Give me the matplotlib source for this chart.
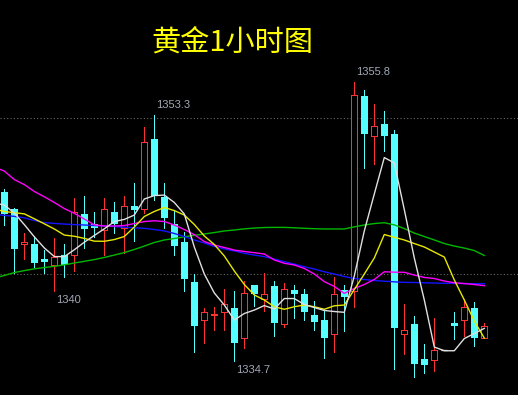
import matplotlib
matplotlib.use("Agg")
import matplotlib.pyplot as plt
import numpy as np

plt.rcParams['font.family'] = ['Noto Sans CJK SC', 'DejaVu Sans']

title = "黄金1小时图"

# OHLC of the 1-hour candles
opens = [1347.5, 1346.2, 1343.6, 1343.6, 1342.4, 1342.0, 1342.7, 1342.7, 1345.8, 1345.1,
         1344.6, 1346.0, 1344.8, 1346.4, 1346.2, 1351.5, 1347.1, 1345.1, 1343.7, 1340.7,
         1337.8, 1338.2, 1338.4, 1338.7, 1336.5, 1340.5, 1339.4, 1340.4, 1337.5, 1340.1,
         1339.8, 1338.2, 1337.8, 1336.8, 1340.1, 1340.0, 1354.7, 1351.7, 1352.6, 1351.9,
         1336.8, 1337.5, 1334.9, 1334.8, 1335.55, 1337.6, 1337.8, 1338.7, 1336.5]
highs = [1347.7, 1346.3, 1344.4, 1344.2, 1343.1, 1344.0, 1343.6, 1347.0, 1347.2, 1346.0,
         1347.0, 1346.7, 1347.2, 1348.2, 1352.4, 1353.3, 1348.2, 1346.1, 1344.5, 1341.3,
         1338.7, 1338.8, 1340.2, 1340.0, 1340.8, 1340.5, 1341.4, 1340.8, 1340.6, 1340.5,
         1340.2, 1339.3, 1338.6, 1341.1, 1340.5, 1355.8, 1355.2, 1354.1, 1353.6, 1352.2,
         1339.0, 1338.1, 1336.0, 1338.0, 1335.55, 1338.4, 1339.4, 1339.2, 1337.6]
lows = [1345.0, 1341.4, 1342.4, 1341.8, 1341.4, 1340.0, 1341.1, 1341.5, 1343.3, 1344.1,
        1342.7, 1344.4, 1342.9, 1343.8, 1345.9, 1346.9, 1344.8, 1342.7, 1340.0, 1335.4,
        1336.1, 1337.1, 1337.1, 1334.7, 1335.7, 1338.9, 1338.5, 1336.6, 1337.3, 1338.0,
        1337.8, 1337.1, 1335.0, 1335.4, 1337.0, 1338.8, 1349.3, 1349.6, 1350.6, 1334.1,
        1335.3, 1333.5, 1333.8, 1334.0, 1335.55, 1336.4, 1336.6, 1335.9, 1336.5]
closes = [1345.8, 1343.2, 1343.7, 1342.1, 1342.2, 1342.6, 1342.0, 1346.0, 1344.7, 1344.8,
          1346.2, 1345.1, 1346.4, 1346.1, 1351.3, 1347.2, 1345.5, 1343.4, 1340.9, 1337.4,
          1338.4, 1338.3, 1339.0, 1336.1, 1339.9, 1339.8, 1339.8, 1337.6, 1340.2, 1339.8,
          1338.4, 1337.7, 1336.5, 1339.8, 1339.6, 1354.8, 1351.9, 1352.5, 1351.7, 1337.2,
          1337.1, 1334.5, 1334.4, 1335.6, 1335.55, 1337.4, 1338.8, 1336.5, 1337.4]

# moving-average lines, one value per candle starting one bar before the first visible candle
ma_white = [1346.66, 1346.51, 1345.90, 1345.03, 1344.11, 1343.27, 1342.62, 1342.61, 1343.13, 1343.70,
            1344.21, 1344.71, 1345.26, 1345.42, 1345.75, 1346.96, 1347.22, 1347.26, 1346.70, 1345.83,
            1343.34, 1341.30, 1339.87, 1338.96, 1337.83, 1338.32, 1338.58, 1338.92, 1338.66, 1339.45,
            1339.45, 1339.00, 1338.77, 1338.55, 1338.47, 1338.41, 1341.15, 1344.55, 1347.34, 1350.09,
            1349.68, 1346.16, 1342.51, 1339.34, 1335.79, 1335.51, 1335.51, 1336.43, 1336.81, 1337.20]
ma_yellow = [1346.21, 1346.02, 1345.93, 1345.84, 1345.47, 1345.09, 1344.70, 1344.24, 1344.15, 1343.99,
             1343.78, 1343.77, 1343.90, 1344.13, 1344.85, 1345.64, 1346.02, 1346.32, 1346.09, 1345.75,
             1345.04, 1344.17, 1343.53, 1342.66, 1341.53, 1340.51, 1339.72, 1339.34, 1338.83, 1338.64,
             1338.83, 1338.96, 1338.83, 1338.64, 1338.90, 1338.96, 1340.13, 1341.30, 1342.51, 1344.28,
             1344.07, 1343.87, 1343.60, 1343.34, 1342.96, 1342.58, 1340.85, 1339.34, 1337.75, 1336.47]
ma_magenta = [1349.38, 1349.07, 1348.43, 1348.05, 1347.53, 1347.13, 1346.70, 1346.24, 1345.88, 1345.45,
              1345.01, 1344.92, 1344.92, 1344.96, 1345.11, 1345.26, 1345.32, 1345.26, 1345.00, 1344.66,
              1344.27, 1343.75, 1343.49, 1343.30, 1343.11, 1343.00, 1342.91, 1342.81, 1342.36, 1342.11,
              1341.98, 1341.72, 1341.30, 1340.73, 1340.36, 1339.84, 1340.21, 1340.51, 1340.89, 1341.47,
              1341.44, 1341.43, 1341.22, 1341.04, 1340.96, 1340.77, 1340.64, 1340.58, 1340.51, 1340.42]
ma_blue = [1345.79, 1345.73, 1345.65, 1345.54, 1345.34, 1345.18, 1345.12, 1345.07, 1345.03, 1345.00,
           1344.96, 1344.92, 1344.89, 1344.83, 1344.79, 1344.75, 1344.66, 1344.55, 1344.36, 1344.13,
           1343.87, 1343.64, 1343.38, 1343.19, 1343.04, 1342.86, 1342.73, 1342.61, 1342.43, 1342.23,
           1342.05, 1341.85, 1341.68, 1341.47, 1341.30, 1341.11, 1340.96, 1340.89, 1340.81, 1340.76,
           1340.71, 1340.67, 1340.66, 1340.64, 1340.62, 1340.60, 1340.59, 1340.58, 1340.57, 1340.57]
ma_green = [1341.00, 1341.19, 1341.41, 1341.56, 1341.69, 1341.79, 1341.88, 1341.99, 1342.13, 1342.26,
            1342.39, 1342.55, 1342.73, 1342.92, 1343.15, 1343.41, 1343.68, 1343.87, 1343.98, 1344.11,
            1344.22, 1344.32, 1344.43, 1344.55, 1344.62, 1344.71, 1344.77, 1344.81, 1344.82, 1344.82,
            1344.79, 1344.75, 1344.72, 1344.70, 1344.70, 1344.70, 1344.86, 1345.00, 1345.11, 1345.17,
            1345.01, 1344.73, 1344.39, 1344.13, 1343.87, 1343.60, 1343.41, 1343.26, 1343.07, 1342.70]

grid_levels = [1353.07, 1341.30]

label_idx = [15, 35, 5, 23]
label_kind = ['high', 'high', 'low', 'low']

UP = '#ff3232'
DOWN = '#54ffff'
FLAT = '#ffffff'

fig = plt.figure(figsize=(5.18, 3.95), dpi=100, facecolor='black')
ax = fig.add_axes([0, 0, 1, 1])
ax.set_facecolor('black')
for s in ax.spines.values():
    s.set_visible(False)
ax.set_xticks([])
ax.set_yticks([])

o = np.array(opens); h = np.array(highs); l = np.array(lows); c = np.array(closes)
x = np.arange(len(o))

for g in grid_levels:
    ax.axhline(g, color='#6a6a6a', lw=0.8, ls=(0, (1, 2)), zorder=1)

colors = [UP if cc > oo else (DOWN if cc < oo else FLAT) for oo, cc in zip(o, c)]
ax.vlines(x, l, h, colors=colors, lw=0.72, zorder=2, antialiased=False)

bw = 0.6
min_h = 0.08
for xi, oo, cc, col in zip(x, o, c, colors):
    bottom = min(oo, cc)
    height = max(abs(cc - oo), min_h)
    if cc > oo:
        ax.bar(xi, height, bottom=bottom, width=bw, facecolor='black', edgecolor=UP,
               linewidth=0.72, zorder=3, antialiased=False)
    elif cc < oo:
        ax.bar(xi, height, bottom=bottom, width=bw + 0.08, facecolor=DOWN, edgecolor=DOWN,
               linewidth=0, zorder=3, antialiased=False)
    else:
        ax.hlines(oo, xi - bw / 2, xi + bw / 2, colors=FLAT, lw=0.9, zorder=3)

xm = np.arange(-1, len(o))
ax.plot(xm, ma_green, color='#00b800', lw=1.0, zorder=4)
ax.plot(xm, ma_blue, color='#1414ff', lw=1.0, zorder=4)
ax.plot(xm, ma_magenta, color='#ff00ff', lw=1.0, zorder=4)
ax.plot(xm, ma_yellow, color='#e8e800', lw=1.0, zorder=5)
ax.plot(xm, ma_white, color='#e0e0e0', lw=1.0, zorder=6)

for idx, kind in zip(label_idx, label_kind):
    if kind == 'high':
        val = h[idx]
        off = (2, 10)
    else:
        val = l[idx]
        off = (2, -9)
    txt = f"{val:.1f}".rstrip('0').rstrip('.') if abs(val - round(val)) < 1e-9 else f"{val:.1f}"
    ax.annotate(txt, (idx, val), xytext=off, textcoords='offset pixels',
                ha='left', va='center', color='#a0a8b6', fontsize=8,
                family=['Liberation Sans', 'DejaVu Sans'], zorder=7)

ax.set_xlim(-0.43, -0.43 + 51.8)
ax.set_ylim(1332.17, 1361.98)

fig.text(232 / 518, 1 - 43 / 395, title, color='#ffff00', fontsize=21,
         ha='center', va='center', family=['Noto Sans CJK SC', 'DejaVu Sans'])

fig.savefig('out.png', dpi=100, facecolor='black')
